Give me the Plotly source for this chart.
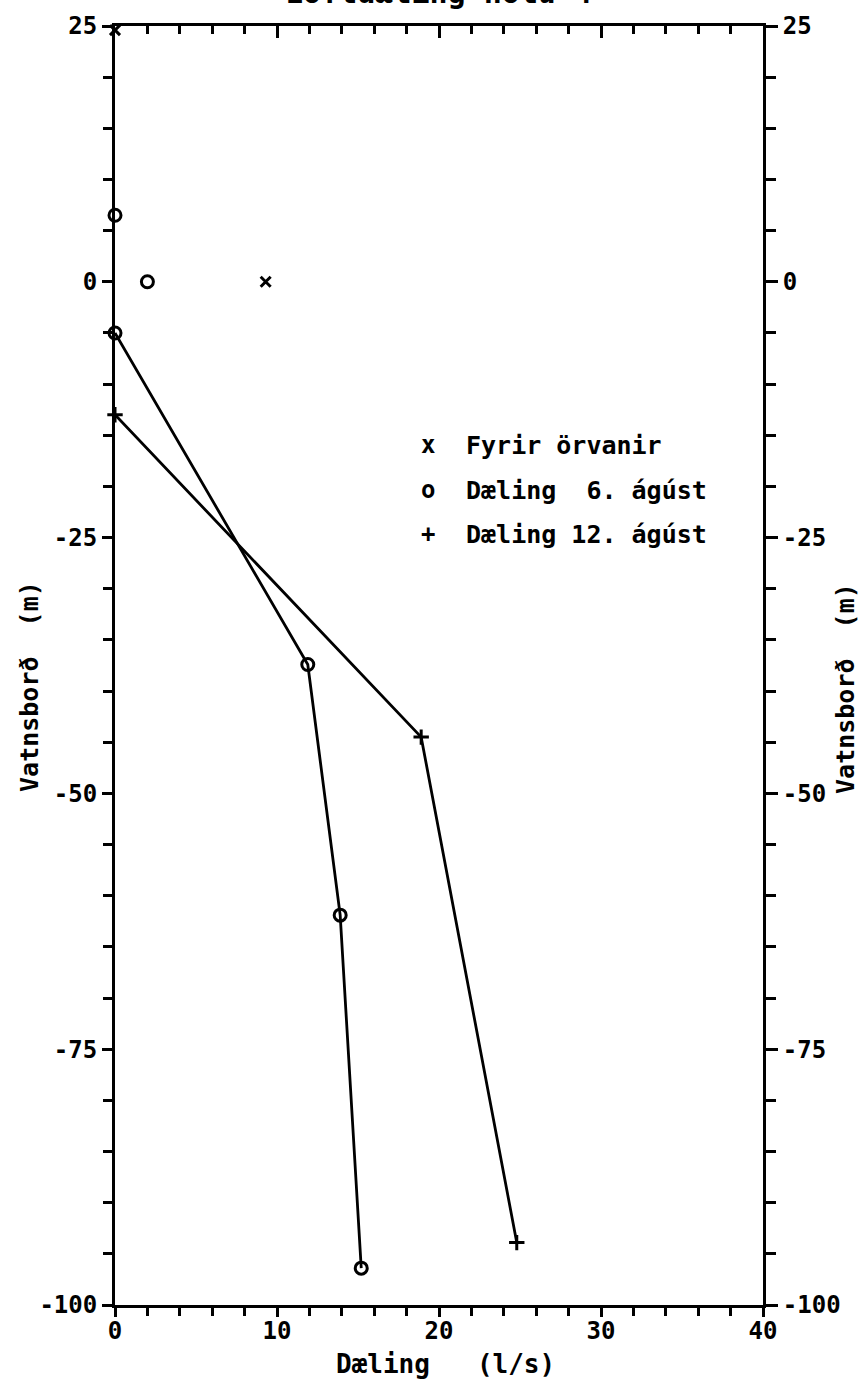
import plotly.graph_objects as go

# Pumping test, well 4: water level vs. discharge
legend_labels = ["Fyrir örvanir", "Dæling  6. ágúst", "Dæling 12. ágúst"]

pre_q = [9.3, 0.0]
pre_level = [0.0, 24.6]

aug6_static_q = [0.0, 2.0]
aug6_static_level = [6.5, 0.0]
aug6_q = [0.0, 11.9, 13.9, 15.2]
aug6_level = [-5.0, -37.4, -61.9, -96.4]

aug12_q = [0.0, 18.9, 24.8]
aug12_level = [-13.0, -44.5, -93.9]

x_ticks = [0, 10, 20, 30, 40]
y_ticks = [-100, -75, -50, -25, 0, 25]
y_ticktext = ["-100", "-75", "-50", "-25", "0", "25"]

FONT = "DejaVu Sans Mono"
INK = "black"
NB = "\u00a0"

W, H = 867, 1390
ML, MR, MT, MB = 115, 104, 24, 85
PW, PH = W - ML - MR, H - MT - MB


def px_x(p):
    return (p - ML) / PW


def px_y(p):
    return (H - MB - p) / PH


fig = go.Figure()

fig.add_trace(go.Scatter(
    x=aug6_q, y=aug6_level, mode="lines+markers", cliponaxis=False,
    line=dict(color=INK, width=2.8),
    marker=dict(symbol="circle-open", size=12, color=INK, line=dict(width=3)),
    showlegend=False))
fig.add_trace(go.Scatter(
    x=aug6_static_q, y=aug6_static_level, mode="markers", cliponaxis=False,
    marker=dict(symbol="circle-open", size=12, color=INK, line=dict(width=3)),
    showlegend=False))
fig.add_trace(go.Scatter(
    x=aug12_q, y=aug12_level, mode="lines+markers", cliponaxis=False,
    line=dict(color=INK, width=2.8),
    marker=dict(symbol="cross-thin-open", size=11, color=INK, line=dict(width=3)),
    showlegend=False))
fig.add_trace(go.Scatter(
    x=pre_q, y=pre_level, mode="markers", cliponaxis=False,
    marker=dict(symbol="x-thin-open", size=10, color=INK, line=dict(width=3)),
    showlegend=False))
# anchor trace for the mirrored top/right axes
fig.add_trace(go.Scatter(x=[], y=[], xaxis="x2", yaxis="y2",
                         showlegend=False, hoverinfo="skip"))

tick_font = dict(family=FONT, size=24, color=INK, weight="bold")
common = dict(showgrid=False, zeroline=False, showline=True, linecolor=INK,
              linewidth=3, tickcolor=INK, tickwidth=2.5, tickfont=tick_font)

fig.update_layout(
    width=W, height=H,
    margin=dict(l=ML, r=MR, t=MT, b=MB),
    paper_bgcolor="white", plot_bgcolor="white",
    showlegend=False,
    xaxis=dict(range=[0, 40], tickvals=x_ticks, ticks="outside", ticklen=9,
               ticklabelstandoff=-7,
               minor=dict(dtick=2, ticks="outside", ticklen=8, tickcolor=INK, tickwidth=2.5),
               **common),
    xaxis2=dict(range=[0, 40], overlaying="x", side="top", tickvals=x_ticks,
                ticks="inside", ticklen=12, showticklabels=False,
                minor=dict(dtick=2, ticks="inside", ticklen=8, tickcolor=INK, tickwidth=2.5),
                **common),
    yaxis=dict(range=[-100, 25], tickvals=y_ticks, ticktext=y_ticktext,
               ticks="outside", ticklen=10,
               minor=dict(dtick=5, ticks="outside", ticklen=9, tickcolor=INK, tickwidth=2.5),
               **common),
    yaxis2=dict(range=[-100, 25], overlaying="y", side="right", tickvals=y_ticks,
                ticktext=y_ticktext, ticks="outside", ticklen=12,
                minor=dict(dtick=5, ticks="outside", ticklen=10, tickcolor=INK, tickwidth=2.5),
                **common),
)

ann = []
# title (runs off the top edge of the page)
ann.append(dict(text="Loftdæling holu 4", xref="paper", yref="paper",
                x=px_x(438), y=px_y(-10), xanchor="center", yanchor="middle",
                showarrow=False, font=dict(family=FONT, size=30, color=INK, weight="bold")))
# axis titles
ann.append(dict(text=f"Dæling{NB*3}(l/s)", xref="paper", yref="paper",
                x=px_x(445), y=px_y(1364), xanchor="center", yanchor="middle",
                showarrow=False, font=dict(family=FONT, size=26, color=INK, weight="bold")))
ytitle = f"Vatnsborð{NB*2}(m)"
ann.append(dict(text=ytitle, xref="paper", yref="paper", textangle=-90,
                x=px_x(30), y=px_y(686), xanchor="center", yanchor="middle",
                showarrow=False, font=dict(family=FONT, size=25, color=INK, weight="bold")))
ann.append(dict(text=ytitle, xref="paper", yref="paper", textangle=-90,
                x=px_x(846), y=px_y(688), xanchor="center", yanchor="middle",
                showarrow=False, font=dict(family=FONT, size=25, color=INK, weight="bold")))
# legend block
legend_symbols = ["x", "o", "+"]
legend_rows = [444, 489, 533]
for sym, lab, row in zip(legend_symbols, legend_labels, legend_rows):
    ann.append(dict(text=sym, xref="paper", yref="paper",
                    x=px_x(428), y=px_y(row), xanchor="center", yanchor="middle",
                    showarrow=False, font=dict(family=FONT, size=24, color=INK, weight="bold")))
    ann.append(dict(text=lab.replace(" ", NB), xref="paper", yref="paper",
                    x=px_x(464), y=px_y(row), xanchor="left", yanchor="middle",
                    showarrow=False, font=dict(family=FONT, size=25, color=INK, weight="bold")))
fig.update_layout(annotations=ann)

fig.write_html("out.html")
